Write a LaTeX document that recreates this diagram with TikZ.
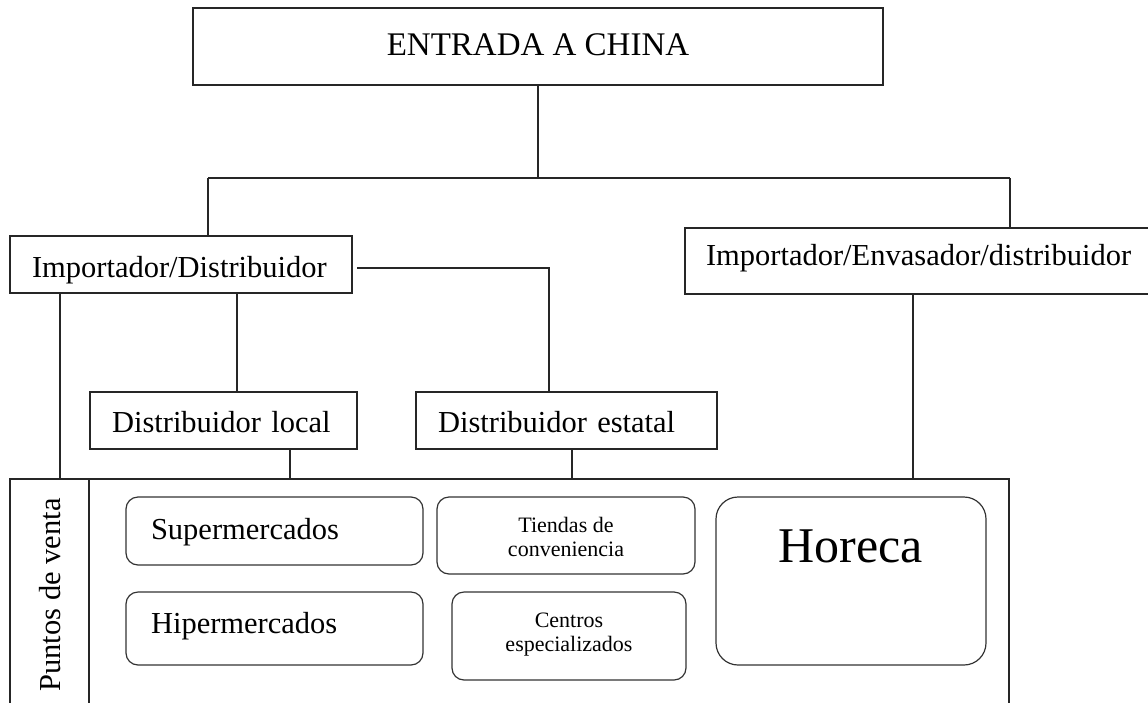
\documentclass[tikz,border=0pt]{standalone}
\usepackage{fontspec}
\setmainfont{Liberation Serif}
\begin{document}
\begin{tikzpicture}[x=1pt,y=-1pt,
  box/.style={draw=black!85, line width=1.1pt, inner ysep=0pt, align=left, text depth=0pt},
  rbox/.style={draw=black!80, line width=1.2pt, rounded corners=12pt, inner sep=0pt, align=center, text depth=0pt},
  conn/.style={draw=black!85, line width=1.1pt},
  ftitle/.style={font=\fontsize{33}{36}\selectfont},
  fmain/.style={font=\fontsize{30.5}{34}\selectfont},
  fsmall/.style={font=\fontsize{22}{24}\selectfont},
  fbig/.style={font=\fontsize{50}{54}\selectfont}
]
\useasboundingbox (0,0) rectangle (1148,702);
\begin{scope}
\clip (0,0) rectangle (1148,702);

% boxes
\node[box, ftitle, align=center, inner xsep=0pt, minimum width=690pt, minimum height=77pt, text height=17pt] (entrada) at (538,46.5) {ENTRADA A CHINA};
\node[box, fmain, minimum width=342pt, minimum height=57pt, inner xsep=22pt, text width=298pt, text height=25pt] (impdist) at (181,264.5) {Importador/Distribuidor};
\node[box, fmain, minimum width=480pt, minimum height=66pt, inner xsep=21pt, text width=438pt, text height=8pt] (impenv) at (925,261) {Importador/Envasador/distribuidor};
\node[box, fmain, minimum width=267pt, minimum height=57pt, inner xsep=22pt, text width=223pt, text height=23pt] (dlocal) at (223.5,420.5) {Distribuidor local};
\node[box, fmain, minimum width=301pt, minimum height=57pt, inner xsep=22pt, text width=257pt, text height=23pt] (destatal) at (566.5,420.5) {Distribuidor estatal};
\node[box, inner sep=0pt, minimum width=999pt, minimum height=242pt] (pv) at (509.5,600) {};
\node[fmain, rotate=90, inner sep=0pt] (pvlabel) at (50.5,595) {Puntos de venta};

% rounded boxes
\node[rbox, fmain, align=left, minimum width=297pt, minimum height=68pt, inner xsep=25pt, text width=247pt, text height=16pt] (super) at (274.5,531) {Supermercados};
\node[rbox, fmain, align=left, minimum width=297pt, minimum height=73pt, inner xsep=25pt, text width=247pt, text height=9pt] (hiper) at (274.5,628.5) {Hipermercados};
\node[rbox, fsmall, minimum width=258pt, minimum height=77pt, text height=41pt] (tiendas) at (566,535.5) {Tiendas de\\conveniencia};
\node[rbox, fsmall, minimum width=234pt, minimum height=88pt, text height=30pt] (centros) at (569,636) {Centros\\especializados};
\node[rbox, fbig, rounded corners=22pt, minimum width=270pt, minimum height=168pt, text height=0pt, text depth=38pt] (horeca) at (851,581) {Horeca};

% junction coordinates
\coordinate (j) at (538,178);
\coordinate (jl) at (208,178);
\coordinate (jr) at (1010,178);
\coordinate (g1) at (357,268);
\coordinate (g2) at (549,268);
\coordinate (c60) at (60,0);
\coordinate (c89) at (89,0);
\coordinate (c237) at (237,0);
\coordinate (c290) at (290,0);
\coordinate (c572) at (572,0);
\coordinate (c913) at (913,0);

% connectors
\draw[conn] (entrada.south) -- (j);
\draw[conn] (jl) -- (jr);
\draw[conn] (jl) -- (jl |- impdist.north);
\draw[conn] (jr) -- (jr |- impenv.north);
\draw[conn] (g1) -- (g2) -- (g2 |- destatal.north);
\draw[conn] (c60 |- impdist.south) -- (c60 |- pv.north);
\draw[conn] (c237 |- impdist.south) -- (c237 |- dlocal.north);
\draw[conn] (c290 |- dlocal.south) -- (c290 |- pv.north);
\draw[conn] (c572 |- destatal.south) -- (c572 |- pv.north);
\draw[conn] (c913 |- impenv.south) -- (c913 |- pv.north);
\draw[conn] (c89 |- pv.north) -- (c89 |- pv.south);
\end{scope}
\end{tikzpicture}
\end{document}
